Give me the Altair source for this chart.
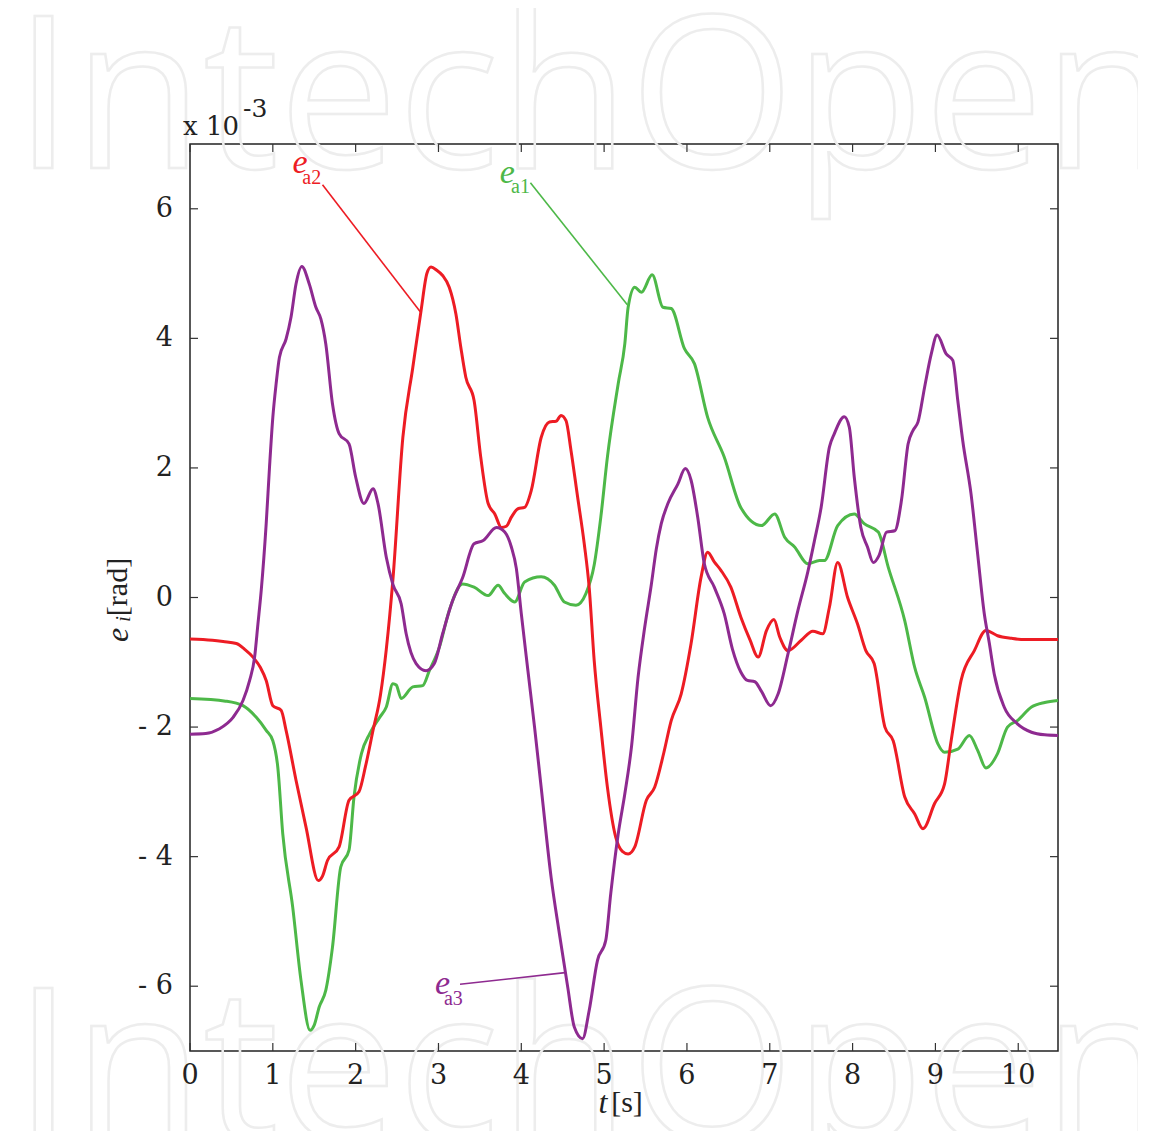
import altair as alt
import pandas as pd

# ---------------- data (values in units of 1e-3 rad) ----------------
t_a2 = [0.0, 0.27, 0.40, 0.56, 0.66, 0.76, 0.85, 0.92, 1.00, 1.10, 1.16, 1.28, 1.40, 1.55, 1.60, 1.66,
        1.80, 1.92, 2.04, 2.12, 2.21, 2.30, 2.37, 2.45, 2.57, 2.69, 2.79, 2.86, 2.91, 2.98, 3.05, 3.13,
        3.21, 3.27, 3.33, 3.43, 3.51, 3.60, 3.68, 3.76, 3.82, 3.88, 3.96, 4.04, 4.12, 4.24, 4.34, 4.42,
        4.48, 4.54, 4.60, 4.68, 4.76, 4.82, 4.88, 4.96, 5.04, 5.14, 5.22, 5.29, 5.37, 5.51, 5.61, 5.72,
        5.81, 5.93, 6.05, 6.17, 6.25, 6.33, 6.41, 6.53, 6.65, 6.76, 6.86, 6.96, 7.05, 7.12, 7.22, 7.38,
        7.52, 7.64, 7.72, 7.82, 7.94, 8.06, 8.16, 8.26, 8.39, 8.49, 8.63, 8.75, 8.85, 8.99, 9.11, 9.19,
        9.31, 9.47, 9.61, 9.75, 9.92, 10.08, 10.48]
e_a2 = [-0.64, -0.66, -0.68, -0.71, -0.80, -0.92, -1.08, -1.28, -1.67, -1.74, -2.05, -2.82, -3.54, -4.37, -4.30, -4.06,
        -3.85, -3.13, -3.00, -2.60, -2.05, -1.50, -0.80, 0.28, 2.47, 3.55, 4.43, 5.00, 5.10, 5.05, 4.97, 4.79,
        4.38, 3.86, 3.40, 3.04, 2.17, 1.45, 1.29, 1.08, 1.10, 1.24, 1.37, 1.39, 1.65, 2.47, 2.71, 2.72,
        2.81, 2.73, 2.27, 1.55, 0.83, 0.15, -0.97, -2.00, -2.93, -3.70, -3.92, -3.96, -3.85, -3.13, -2.93, -2.40,
        -1.90, -1.49, -0.71, 0.31, 0.70, 0.55, 0.42, 0.16, -0.30, -0.65, -0.92, -0.51, -0.34, -0.61, -0.82, -0.66,
        -0.52, -0.56, -0.15, 0.54, 0.00, -0.41, -0.82, -1.02, -2.00, -2.21, -3.08, -3.34, -3.57, -3.18, -2.88, -2.21,
        -1.28, -0.82, -0.51, -0.59, -0.63, -0.65, -0.65]

t_a1 = [0.0, 0.43, 0.64, 0.80, 0.92, 1.00, 1.06, 1.12, 1.24, 1.34, 1.45, 1.50, 1.56, 1.64, 1.72, 1.82,
        1.92, 1.98, 2.07, 2.17, 2.29, 2.37, 2.45, 2.49, 2.55, 2.69, 2.81, 2.89, 3.01, 3.13, 3.29, 3.43,
        3.60, 3.72, 3.80, 3.92, 4.04, 4.24, 4.40, 4.52, 4.66, 4.78, 4.88, 4.96, 5.04, 5.17, 5.25, 5.29,
        5.37, 5.45, 5.58, 5.71, 5.81, 5.97, 6.09, 6.25, 6.45, 6.65, 6.90, 7.06, 7.18, 7.30, 7.46, 7.60,
        7.66, 7.82, 8.02, 8.14, 8.31, 8.43, 8.63, 8.75, 8.87, 9.03, 9.11, 9.27, 9.41, 9.51, 9.61, 9.75,
        9.87, 9.99, 10.16, 10.32, 10.48]
e_a1 = [-1.56, -1.60, -1.67, -1.85, -2.05, -2.21, -2.62, -3.65, -4.78, -5.91, -6.68, -6.60, -6.32, -6.06, -5.40, -4.16,
        -3.90, -3.08, -2.41, -2.10, -1.85, -1.69, -1.33, -1.35, -1.56, -1.38, -1.36, -1.13, -0.77, -0.20, 0.21, 0.16,
        0.03, 0.19, 0.06, -0.07, 0.24, 0.32, 0.19, -0.07, -0.12, 0.06, 0.50, 1.24, 2.17, 3.30, 3.92, 4.48,
        4.79, 4.71, 4.98, 4.48, 4.46, 3.84, 3.61, 2.78, 2.17, 1.39, 1.11, 1.29, 0.93, 0.78, 0.52, 0.57,
        0.57, 1.11, 1.29, 1.14, 1.01, 0.47, -0.36, -1.08, -1.54, -2.26, -2.39, -2.34, -2.13, -2.36, -2.63, -2.41,
        -2.00, -1.90, -1.69, -1.62, -1.59]

t_a3 = [0.0, 0.19, 0.35, 0.52, 0.64, 0.72, 0.78, 0.82, 0.86, 0.92, 0.96, 1.00, 1.04, 1.08, 1.16, 1.22,
        1.28, 1.35, 1.44, 1.52, 1.58, 1.64, 1.72, 1.80, 1.92, 2.00, 2.10, 2.21, 2.27, 2.37, 2.45, 2.55,
        2.61, 2.73, 2.85, 2.95, 3.05, 3.17, 3.29, 3.43, 3.54, 3.70, 3.80, 3.88, 3.94, 4.00, 4.08, 4.16,
        4.24, 4.36, 4.46, 4.56, 4.64, 4.74, 4.82, 4.92, 5.02, 5.08, 5.17, 5.25, 5.33, 5.41, 5.49, 5.57,
        5.63, 5.69, 5.77, 5.89, 5.98, 6.05, 6.13, 6.21, 6.33, 6.45, 6.55, 6.65, 6.73, 6.82, 6.90, 7.01,
        7.10, 7.22, 7.34, 7.46, 7.54, 7.62, 7.72, 7.78, 7.90, 7.96, 8.02, 8.10, 8.18, 8.25, 8.32, 8.41,
        8.51, 8.59, 8.67, 8.73, 8.79, 8.87, 8.95, 9.02, 9.13, 9.21, 9.27, 9.33, 9.43, 9.51, 9.59, 9.65,
        9.71, 9.83, 9.99, 10.16, 10.32, 10.48]
e_a3 = [-2.11, -2.10, -2.03, -1.85, -1.59, -1.28, -0.92, -0.41, 0.11, 1.14, 2.01, 2.78, 3.30, 3.71, 3.99, 4.33,
        4.84, 5.11, 4.84, 4.48, 4.30, 3.91, 2.99, 2.53, 2.37, 1.86, 1.45, 1.68, 1.45, 0.62, 0.20, -0.10,
        -0.56, -1.02, -1.13, -1.02, -0.56, -0.05, 0.30, 0.83, 0.88, 1.08, 1.01, 0.78, 0.45, -0.25, -1.13, -2.00,
        -2.93, -4.32, -5.19, -6.01, -6.63, -6.81, -6.37, -5.60, -5.29, -4.57, -3.65, -3.03, -2.31, -1.23, -0.46, 0.20,
        0.75, 1.14, 1.45, 1.75, 1.99, 1.81, 1.24, 0.52, 0.16, -0.25, -0.80, -1.15, -1.28, -1.30, -1.45, -1.67,
        -1.49, -0.87, -0.20, 0.40, 0.88, 1.39, 2.32, 2.53, 2.79, 2.63, 1.86, 1.08, 0.78, 0.54, 0.65, 1.01,
        1.03, 1.50, 2.37, 2.58, 2.71, 3.25, 3.76, 4.05, 3.76, 3.66, 3.04, 2.42, 1.60, 0.67, -0.25, -0.70,
        -1.18, -1.69, -1.95, -2.08, -2.12, -2.13]

series_names = ["a1", "a2", "a3"]
series_colors = ["#4db848", "#ed1c24", "#8e2a90"]
label_colors = ["#6cc24a", "#ed1c24", "#8e2a90"]

x_ticks = [0, 1, 2, 3, 4, 5, 6, 7, 8, 9, 10]
x_tick_labels = ["0", "1", "2", "3", "4", "5", "6", "7", "8", "9", "10"]
y_ticks = [-6, -4, -2, 0, 2, 4, 6]
y_tick_labels = ["- 6", "- 4", "- 2", "0", "2", "4", "6"]
x_domain = [0, 10.48]
y_domain = [-7, 7]

# leader lines: start (t, v) -> end (t, v)
lead_series = ["a2", "a1", "a3"]
lead_t1 = [1.60, 4.11, 3.26]
lead_v1 = [6.37, 6.40, -5.97]
lead_t2 = [2.78, 5.28, 4.53]
lead_v2 = [4.41, 4.52, -5.79]
# label positions
lab_e_t = [1.33, 3.83, 3.05]
lab_e_v = [6.71, 6.56, -5.97]
lab_s_t = [1.47, 3.99, 3.18]
lab_s_v = [6.47, 6.33, -6.20]
lab_sub = ["a2", "a1", "a3"]

# ---------------- layout ----------------
W, H = 868, 907
SERIF = "DejaVu Serif"
SERIF_IT = "Liberation Serif"
TICK = "#333333"

rows = []
for name, ts, vs in [("a1", t_a1, e_a1), ("a2", t_a2, e_a2), ("a3", t_a3, e_a3)]:
    for t, v in zip(ts, vs):
        rows.append({"t": t, "v": v, "s": name})
df = pd.DataFrame(rows)

xs = alt.Scale(domain=x_domain, nice=False, zero=False)
ys = alt.Scale(domain=y_domain, nice=False, zero=False)
cs = alt.Scale(domain=series_names, range=series_colors)
lcs = alt.Scale(domain=series_names, range=label_colors)


def X(f):
    return alt.X(f, scale=xs, axis=None, title=None)


def Y(f):
    return alt.Y(f, scale=ys, axis=None, title=None)


lines = alt.Chart(df).mark_line(strokeWidth=3, clip=True, strokeJoin="round",
                                interpolate="monotone").encode(
    x=X("t:Q"), y=Y("v:Q"),
    color=alt.Color("s:N", scale=cs, legend=None),
    order=alt.Order("t:Q"),
    detail="s:N",
)

# inward ticks on all four sides
dfx = pd.DataFrame({"t": x_ticks, "lab": x_tick_labels})
dfy = pd.DataFrame({"v": y_ticks, "lab": y_tick_labels})
tb = alt.Chart(dfx).mark_rule(color=TICK, strokeWidth=1.2).encode(
    x=X("t:Q"), y=alt.value(H), y2=alt.value(H - 8))
tt = alt.Chart(dfx).mark_rule(color=TICK, strokeWidth=1.2).encode(
    x=X("t:Q"), y=alt.value(0), y2=alt.value(8))
tl = alt.Chart(dfy).mark_rule(color=TICK, strokeWidth=1.2).encode(
    y=Y("v:Q"), x=alt.value(0), x2=alt.value(8))
tr = alt.Chart(dfy).mark_rule(color=TICK, strokeWidth=1.2).encode(
    y=Y("v:Q"), x=alt.value(W), x2=alt.value(W - 8))

# tick labels
xl = alt.Chart(dfx).mark_text(font=SERIF, fontSize=27, color="#222", align="center",
                              baseline="middle").encode(
    x=X("t:Q"), y=alt.value(H + 25), text="lab:N")
yl = alt.Chart(dfy).mark_text(font=SERIF, fontSize=27, color="#222", align="right",
                              baseline="middle").encode(
    y=Y("v:Q"), x=alt.value(-17), text="lab:N")

# leader lines
dfl = pd.DataFrame({"s": lead_series, "t1": lead_t1, "v1": lead_v1, "t2": lead_t2, "v2": lead_v2})
leads = alt.Chart(dfl).mark_rule(strokeWidth=1.6).encode(
    x=X("t1:Q"), y=Y("v1:Q"), x2="t2:Q", y2="v2:Q",
    color=alt.Color("s:N", scale=cs, legend=None))

dfe = pd.DataFrame({"s": lead_series, "t": lab_e_t, "v": lab_e_v})
lab_e = alt.Chart(dfe).mark_text(text="e", font=SERIF_IT, fontStyle="italic", fontSize=34,
                                 baseline="middle", align="center").encode(
    x=X("t:Q"), y=Y("v:Q"),
    color=alt.Color("s:N", scale=lcs, legend=None))
dfs = pd.DataFrame({"s": lead_series, "t": lab_s_t, "v": lab_s_v, "txt": lab_sub})
lab_s = alt.Chart(dfs).mark_text(font=SERIF_IT, fontSize=20, baseline="middle", align="center").encode(
    x=X("t:Q"), y=Y("v:Q"),
    text="txt:N",
    color=alt.Color("s:N", scale=lcs, legend=None))

one = pd.DataFrame({"a": [0]})


def ptext(txt, x, y, size, font=SERIF, style="normal", align="center", baseline="middle", angle=0):
    kw = dict(text=txt, font=font, fontSize=size, fontStyle=style, align=align,
              baseline=baseline, color="#222")
    if angle:
        kw["angle"] = angle
    return alt.Chart(one).mark_text(**kw).encode(x=alt.value(x), y=alt.value(y))


texts = [
    ptext("x 10", -7, -9, 26, align="left", baseline="alphabetic"),
    ptext("-3", 53, -27, 25, align="left", baseline="alphabetic"),
    ptext("[rad]", -72, 443, 30, font=SERIF_IT, angle=270),
    ptext("e", -72, 491, 32, font=SERIF_IT, style="italic", angle=270),
    ptext("i", -66, 475, 20, font=SERIF_IT, style="italic", angle=270),
    ptext("t", 413, 959, 32, font=SERIF_IT, style="italic"),
    ptext("[s]", 437, 959, 30, font=SERIF_IT),
]

# faint watermark
wm = [
    alt.Chart(one).mark_text(text="IntechOpen", font="Open Sans", fontSize=212, align="left",
                             baseline="alphabetic", fillOpacity=0, stroke="#ededed",
                             strokeWidth=2.5).encode(x=alt.value(-176), y=alt.value(24)),
    alt.Chart(one).mark_text(text="IntechOpen", font="Open Sans", fontSize=212, align="left",
                             baseline="alphabetic", fillOpacity=0, stroke="#ededed",
                             strokeWidth=2.5).encode(x=alt.value(-176), y=alt.value(996)),
]

chart = alt.layer(*wm, lines, tb, tt, tl, tr, xl, yl, leads, lab_e, lab_s, *texts).properties(
    width=W, height=H,
    background="white",
    autosize=alt.AutoSizeParams(type="none"),
    padding={"left": 182, "top": 136, "right": 80, "bottom": 80},
).configure_view(stroke="#222222", strokeWidth=1.5)

chart.save("out.html", embed_options={"renderer": "svg", "actions": False})
